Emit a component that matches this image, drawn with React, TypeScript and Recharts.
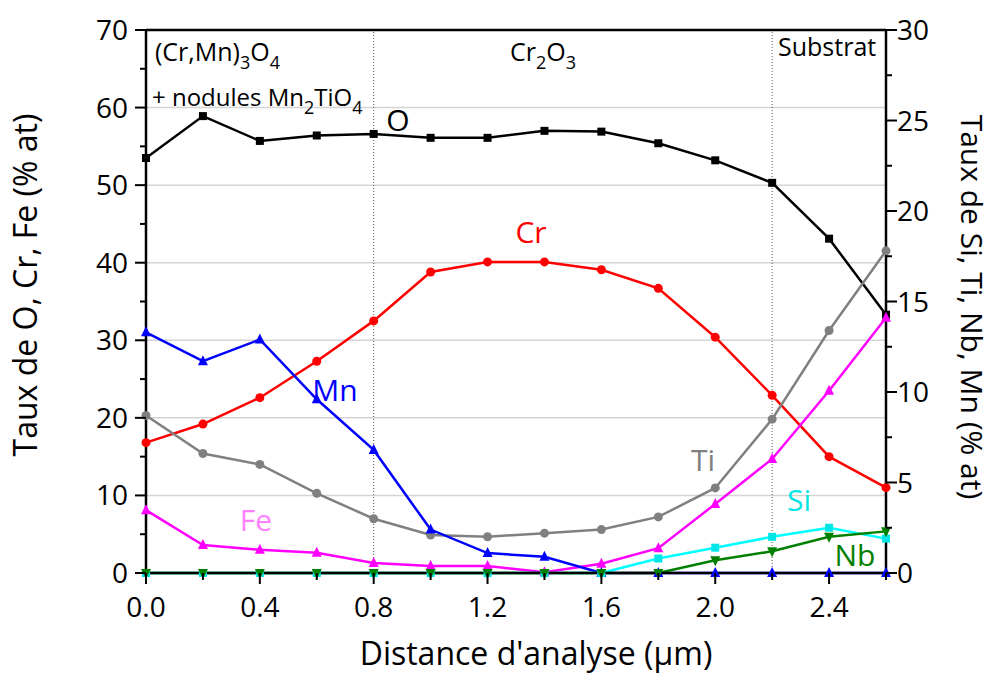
import React from "react";
import { LineChart, Line, XAxis, YAxis, ReferenceLine } from "recharts";

const distance = [0, 0.2, 0.4, 0.6, 0.8, 1.0, 1.2, 1.4, 1.6, 1.8, 2.0, 2.2, 2.4, 2.6];
// left axis (% at)
const oxygen = [53.5, 58.9, 55.7, 56.4, 56.6, 56.1, 56.1, 57.0, 56.9, 55.4, 53.2, 50.3, 43.1, 33.3];
const chromium = [16.8, 19.2, 22.6, 27.3, 32.5, 38.8, 40.1, 40.1, 39.1, 36.7, 30.4, 22.9, 15.0, 11.0];
const iron = [8.1, 3.6, 3.0, 2.6, 1.3, 0.9, 0.9, 0.1, 1.2, 3.2, 8.9, 14.7, 23.5, 32.9];
// right axis (% at)
const manganese = [13.3, 11.7, 12.9, 9.6, 6.8, 2.4, 1.1, 0.9, 0, 0, 0, 0, 0, 0];
const titanium = [8.7, 6.6, 6.0, 4.4, 3.0, 2.1, 2.0, 2.2, 2.4, 3.1, 4.7, 8.5, 13.4, 17.8];
const silicon = [0, 0, 0, 0, 0, 0, 0, 0, 0, 0.8, 1.4, 2.0, 2.5, 1.9];
const niobium = [0, 0, 0, 0, 0, 0, 0, 0, 0, 0, 0.7, 1.2, 2.0, 2.3];

const xTicks = [0, 0.2, 0.4, 0.6, 0.8, 1.0, 1.2, 1.4, 1.6, 1.8, 2.0, 2.2, 2.4, 2.6];
const leftTicks = [0, 5, 10, 15, 20, 25, 30, 35, 40, 45, 50, 55, 60, 65, 70];
const rightTicks = [0, 2.5, 5, 7.5, 10, 12.5, 15, 17.5, 20, 22.5, 25, 27.5, 30];
const gridValues = [10, 20, 30, 40, 50, 60];
const zoneLines = [0.8, 2.2];

const data = distance.map((d, i) => ({
  d,
  O: oxygen[i],
  Cr: chromium[i],
  Fe: iron[i],
  Mn: manganese[i],
  Ti: titanium[i],
  Si: silicon[i],
  Nb: niobium[i],
}));

const FONT = "'Open Sans', 'Noto Sans', sans-serif";
const TICK_FS = 28;

function makeDot(shape: string, color: string, s: number) {
  return (p: any) => {
    const { cx, cy, index } = p;
    if (cx == null || cy == null) return <g key={index} />;
    if (shape === "square")
      return <rect key={index} x={cx - s} y={cy - s} width={2 * s} height={2 * s} fill={color} />;
    if (shape === "circle") return <circle key={index} cx={cx} cy={cy} r={s} fill={color} />;
    if (shape === "up")
      return (
        <polygon key={index} points={`${cx},${cy - s * 1.2} ${cx - s},${cy + s * 0.8} ${cx + s},${cy + s * 0.8}`} fill={color} />
      );
    return (
      <polygon key={index} points={`${cx},${cy + s * 1.2} ${cx - s},${cy - s * 0.8} ${cx + s},${cy - s * 0.8}`} fill={color} />
    );
  };
}

function XTick(p: any) {
  const { x, y, payload } = p;
  const v = payload.value;
  const major = Math.round(v * 10) % 4 === 0;
  return (
    <g>
      <line x1={x} x2={x} y1={y} y2={y + (major ? 11 : 7)} stroke="#000" strokeWidth={2} />
      {major && (
        <text x={x} y={y + 44} textAnchor="middle" fontSize={TICK_FS} fontFamily={FONT} fill="#000">
          {v.toFixed(1)}
        </text>
      )}
    </g>
  );
}

function LeftTick(p: any) {
  const { x, y, payload } = p;
  const v = payload.value;
  const major = v % 10 === 0;
  return (
    <g>
      <line x1={x} x2={x - (major ? 11 : 6)} y1={y} y2={y} stroke="#000" strokeWidth={2} />
      {major && (
        <text x={x - 18} y={y + 10} textAnchor="end" fontSize={TICK_FS} fontFamily={FONT} fill="#000">
          {v}
        </text>
      )}
    </g>
  );
}

function RightTick(p: any) {
  const { x, y, payload } = p;
  const v = payload.value;
  const major = v % 5 === 0;
  return (
    <g>
      <line x1={x} x2={x + (major ? 11 : 6)} y1={y} y2={y} stroke="#000" strokeWidth={2} />
      {major && (
        <text x={x + 11} y={y + 10} textAnchor="start" fontSize={TICK_FS} fontFamily={FONT} fill="#000">
          {v}
        </text>
      )}
    </g>
  );
}

const txt = { fontFamily: FONT } as const;

export default function App() {
  return (
    <div style={{ position: "absolute", left: 0, top: 0, width: 996, height: 675, background: "#fff" }}>
      <LineChart width={996} height={675} data={data} margin={{ top: 30, right: 0, bottom: 0, left: 0 }}>
        <XAxis
          dataKey="d"
          type="number"
          domain={[0, 2.6]}
          ticks={xTicks}
          tick={<XTick />}
          tickLine={false}
          tickSize={0}
          tickMargin={0}
          height={102}
          axisLine={{ stroke: "#000", strokeWidth: 2.5 }}
          interval={0}
        />
        <YAxis
          yAxisId="left"
          domain={[0, 70]}
          ticks={leftTicks}
          tick={<LeftTick />}
          tickLine={false}
          tickSize={0}
          tickMargin={0}
          width={146}
          axisLine={{ stroke: "#000", strokeWidth: 2.5 }}
          interval={0}
        />
        <YAxis
          yAxisId="right"
          orientation="right"
          domain={[0, 30]}
          ticks={rightTicks}
          tick={<RightTick />}
          tickLine={false}
          tickSize={0}
          tickMargin={0}
          width={110}
          axisLine={{ stroke: "#000", strokeWidth: 2.5 }}
          interval={0}
        />
        {gridValues.map((g) => (
          <ReferenceLine key={g} yAxisId="left" y={g} stroke="#d4d4d4" strokeWidth={1.5} />
        ))}
        <ReferenceLine yAxisId="left" y={70} stroke="#000" strokeWidth={2.5} />
        {zoneLines.map((z) => (
          <ReferenceLine key={z} yAxisId="left" x={z} stroke="#555" strokeWidth={1} strokeDasharray="1 2" />
        ))}
        <Line yAxisId="left" dataKey="O" stroke="#000" strokeWidth={2.5} dot={makeDot("square", "#000", 4)} isAnimationActive={false} />
        <Line yAxisId="left" dataKey="Cr" stroke="#ff0000" strokeWidth={2.5} dot={makeDot("circle", "#ff0000", 4.5)} isAnimationActive={false} />
        <Line yAxisId="right" dataKey="Ti" stroke="#808080" strokeWidth={2.5} dot={makeDot("circle", "#808080", 4.5)} isAnimationActive={false} />
        <Line yAxisId="left" dataKey="Fe" stroke="#ff00ff" strokeWidth={2.5} dot={makeDot("up", "#ff00ff", 5)} isAnimationActive={false} />
        <Line yAxisId="right" dataKey="Mn" stroke="#0000ff" strokeWidth={2.5} dot={makeDot("up", "#0000ff", 5)} isAnimationActive={false} />
        <Line yAxisId="right" dataKey="Si" stroke="#00ffff" strokeWidth={2.5} dot={makeDot("square", "#00e5e5", 4)} isAnimationActive={false} />
        <Line yAxisId="right" dataKey="Nb" stroke="#008000" strokeWidth={2.5} dot={makeDot("down", "#008000", 5)} isAnimationActive={false} />
      </LineChart>
      <svg width={996} height={675} style={{ position: "absolute", left: 0, top: 0, pointerEvents: "none" }}>
        {/* zone labels */}
        <text x={155} y={61} fontSize={25} fill="#000" {...txt}>
          (Cr,Mn)<tspan dy={8} fontSize={18}>3</tspan>
          <tspan dy={-8}>O</tspan>
          <tspan dy={8} fontSize={18}>4</tspan>
        </text>
        <text x={152} y={106} fontSize={24} fill="#000" {...txt}>
          + nodules Mn<tspan dy={8} fontSize={18}>2</tspan>
          <tspan dy={-8}>TiO</tspan>
          <tspan dy={8} fontSize={18}>4</tspan>
        </text>
        <text x={510} y={61} fontSize={25} fill="#000" {...txt}>
          Cr<tspan dy={8} fontSize={18}>2</tspan>
          <tspan dy={-8}>O</tspan>
          <tspan dy={8} fontSize={18}>3</tspan>
        </text>
        <text x={778} y={56} fontSize={25} fill="#000" {...txt}>
          Substrat
        </text>
        {/* series labels */}
        <text x={398} y={131} fontSize={30} textAnchor="middle" fill="#000" {...txt}>O</text>
        <text x={531} y={243} fontSize={30} textAnchor="middle" fill="#ff0000" {...txt}>Cr</text>
        <text x={335} y={401} fontSize={30} textAnchor="middle" fill="#0000ff" {...txt}>Mn</text>
        <text x={256} y={531} fontSize={30} textAnchor="middle" fill="#ff80ff" {...txt}>Fe</text>
        <text x={703} y={471} fontSize={30} textAnchor="middle" fill="#808080" {...txt}>Ti</text>
        <text x={799} y={511} fontSize={30} textAnchor="middle" fill="#00e5e5" {...txt}>Si</text>
        <text x={855} y={566} fontSize={30} textAnchor="middle" fill="#008000" {...txt}>Nb</text>
        {/* axis titles */}
        <text x={536} y={665} fontSize={32} textAnchor="middle" fill="#000" {...txt}>
          Distance d'analyse (µm)
        </text>
        <text x={37} y={285} fontSize={32} textAnchor="middle" fill="#000" transform="rotate(-90 37 285)" {...txt}>
          Taux de O, Cr, Fe (% at)
        </text>
        <text x={961} y={307} fontSize={30} textAnchor="middle" fill="#000" transform="rotate(90 961 307)" {...txt}>
          Taux de Si, Ti, Nb, Mn (% at)
        </text>
      </svg>
    </div>
  );
}
